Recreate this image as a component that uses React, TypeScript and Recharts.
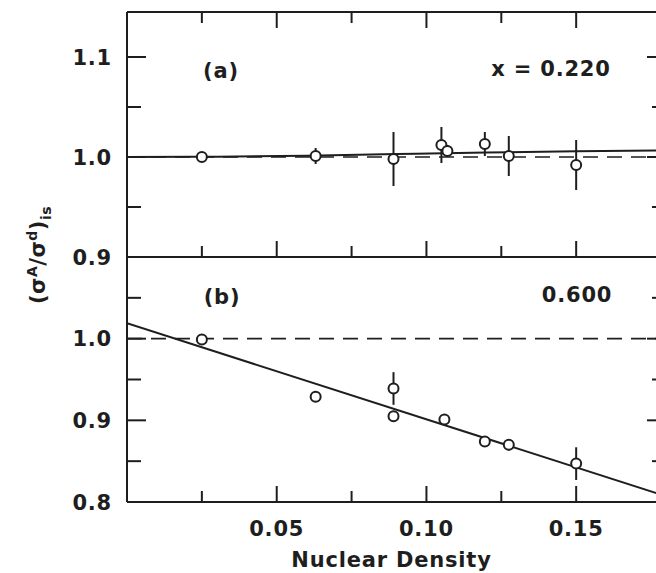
import { ComposedChart, Scatter, Line, XAxis, YAxis, ErrorBar, ReferenceLine } from 'recharts'

// x axis: nuclear density
const xTicks = [0.025, 0.05, 0.075, 0.1, 0.125, 0.15]
const xMajor = [0.05, 0.1, 0.15]

// panel (a), x = 0.220
const yTicksA = [0.9, 0.95, 1.0, 1.05, 1.1]
const yMajorA = [0.9, 1.0, 1.1]
const densA = [0.025, 0.063, 0.089, 0.105, 0.107, 0.1195, 0.1275, 0.15]
const ratioA = [1.0, 1.001, 0.998, 1.012, 1.006, 1.013, 1.001, 0.992]
const errA = [0, 0.008, 0.027, 0.018, 0.006, 0.012, 0.02, 0.025]
const fitDensA = [0, 0.03, 0.06, 0.09, 0.12, 0.15, 0.18]
const fitRatioA = [1.0, 1.0003, 1.0013, 1.003, 1.0045, 1.0058, 1.0065]

// panel (b), x = 0.600
const yTicksB = [0.8, 0.85, 0.9, 0.95, 1.0, 1.05]
const yMajorB = [0.8, 0.9, 1.0]
const densB = [0.025, 0.063, 0.089, 0.089, 0.106, 0.1195, 0.1275, 0.15]
const ratioB = [0.999, 0.929, 0.939, 0.905, 0.901, 0.874, 0.870, 0.847]
const errB = [0, 0, 0.02, 0.006, 0.006, 0.005, 0.007, 0.02]
const fitDensB = [0, 0.18]
const fitRatioB = [1.019, 0.807]

const INK = '#1e1e1e'
const FONT = '"DejaVu Sans", sans-serif'

const pointsA = densA.map((d, i) => ({ dens: d, ratio: ratioA[i], err: errA[i] }))
const pointsB = densB.map((d, i) => ({ dens: d, ratio: ratioB[i], err: errB[i] }))
const fitA = fitDensA.map((d, i) => ({ dens: d, ratio: fitRatioA[i] }))
const fitB = fitDensB.map((d, i) => ({ dens: d, ratio: fitRatioB[i] }))

const isIn = (list: number[], v: number) => list.some((l) => Math.abs(l - v) < 1e-9)

const textStyle = {
  fontFamily: FONT,
  fontSize: 21,
  fontWeight: 'bold' as const,
  letterSpacing: 0.8,
  fill: INK,
}

function makeYTick(major: number[], side: 'left' | 'right') {
  return (props: any) => {
    const { x, y, payload } = props
    const big = isIn(major, payload.value)
    const len = big ? 19 : 14
    const dir = side === 'left' ? 1 : -1
    return (
      <g>
        <line x1={x} x2={x + dir * len} y1={y} y2={y} stroke={INK} strokeWidth={2} />
        {side === 'left' && big && (
          <text x={x - 15} y={y} dy={7.5} textAnchor="end" style={textStyle}>
            {payload.value.toFixed(1)}
          </text>
        )}
      </g>
    )
  }
}

function makeXTick(side: 'top' | 'bottom', labels: boolean) {
  return (props: any) => {
    const { x, y, payload } = props
    const big = isIn(xMajor, payload.value)
    const len = big ? 16 : 11
    const dir = side === 'top' ? 1 : -1
    return (
      <g>
        <line x1={x} x2={x} y1={y} y2={y + dir * len} stroke={INK} strokeWidth={2} />
        {labels && big && (
          <text x={x} y={y + 34} textAnchor="middle" style={textStyle}>
            {payload.value.toFixed(2)}
          </text>
        )}
      </g>
    )
  }
}

const OpenMarker = (props: any) => {
  const { cx, cy } = props
  return <circle cx={cx} cy={cy} r={5} fill="#fff" stroke={INK} strokeWidth={2} />
}

const axisLine = { stroke: INK, strokeWidth: 2 }

function Panel({
  top,
  bottom,
  domain,
  yTicks,
  yMajor,
  points,
  fit,
  fitType,
  showTop,
  showLabels,
}: any) {
  return (
    <div style={{ position: 'absolute', left: 0, top: 0 }}>
      <ComposedChart width={700} height={573} margin={{ top, right: 0, bottom, left: 0 }}>
        {showTop && (
          <XAxis
            xAxisId="t"
            orientation="top"
            type="number"
            dataKey="dens"
            domain={[0, 0.18]}
            allowDataOverflow
            ticks={xTicks}
            interval={0}
            tickSize={0}
            tickMargin={0}
            height={1}
            tickLine={false}
            axisLine={axisLine}
            tick={makeXTick('top', false)}
          />
        )}
        <XAxis
          xAxisId="b"
          type="number"
          dataKey="dens"
          domain={[0, 0.18]}
          allowDataOverflow
          ticks={xTicks}
          interval={0}
          tickSize={0}
          tickMargin={0}
          height={showLabels ? 71 : 1}
          tickLine={false}
          axisLine={axisLine}
          tick={makeXTick('bottom', showLabels)}
          label={
            showLabels
              ? {
                  value: 'Nuclear Density',
                  position: 'insideBottom',
                  offset: 6,
                  dx: -5,
                  style: textStyle,
                }
              : undefined
          }
        />
        <YAxis
          yAxisId="l"
          type="number"
          domain={domain}
          allowDataOverflow
          ticks={yTicks}
          interval={0}
          tickSize={0}
          tickMargin={0}
          width={127}
          tickLine={false}
          axisLine={axisLine}
          tick={makeYTick(yMajor, 'left')}
        />
        <YAxis
          yAxisId="r"
          orientation="right"
          type="number"
          domain={domain}
          allowDataOverflow
          ticks={yTicks}
          interval={0}
          tickSize={0}
          tickMargin={0}
          width={34}
          tickLine={false}
          axisLine={axisLine}
          tick={makeYTick(yMajor, 'right')}
        />
        <ReferenceLine
          xAxisId="b"
          yAxisId="l"
          y={1}
          stroke={INK}
          strokeWidth={1.6}
          strokeDasharray="15 9"
        />
        <Line
          xAxisId="b"
          yAxisId="l"
          data={fit}
          dataKey="ratio"
          type={fitType}
          stroke={INK}
          strokeWidth={2}
          dot={false}
          activeDot={false}
          isAnimationActive={false}
        />
        <Scatter
          xAxisId="b"
          yAxisId="l"
          data={points}
          dataKey="ratio"
          shape={<OpenMarker />}
          isAnimationActive={false}
        >
          <ErrorBar dataKey="err" direction="y" width={0} stroke={INK} strokeWidth={2} />
        </Scatter>
      </ComposedChart>
    </div>
  )
}

export default function App() {
  return (
    <div
      style={{
        position: 'fixed',
        left: 0,
        top: 0,
        width: 656,
        height: 573,
        overflow: 'hidden',
        background: '#fff',
      }}
    >
      <Panel
        top={11}
        bottom={315}
        domain={[0.9, 1.145]}
        yTicks={yTicksA}
        yMajor={yMajorA}
        points={pointsA}
        fit={fitA}
        fitType="monotone"
        showTop
        showLabels={false}
      />
      <Panel
        top={257}
        bottom={0}
        domain={[0.8, 1.1]}
        yTicks={yTicksB}
        yMajor={yMajorB}
        points={pointsB}
        fit={fitB}
        fitType="linear"
        showTop={false}
        showLabels
      />
      <svg
        width={656}
        height={573}
        style={{ position: 'absolute', left: 0, top: 0, pointerEvents: 'none' }}
      >
        <text x={221} y={77.5} textAnchor="middle" style={textStyle}>
          (a)
        </text>
        <text x={551} y={75.5} textAnchor="middle" style={textStyle}>
          x = 0.220
        </text>
        <text x={222} y={304} textAnchor="middle" style={textStyle}>
          (b)
        </text>
        <text x={577} y={301.5} textAnchor="middle" style={textStyle}>
          0.600
        </text>
        <text
          x={38}
          y={255}
          transform="rotate(-90, 38, 255)"
          textAnchor="middle"
          dy={7}
          style={{ ...textStyle, letterSpacing: 0.5 }}
        >
          <tspan>(σ</tspan>
          <tspan dy={-8} fontSize={14}>A</tspan>
          <tspan dy={8}>/σ</tspan>
          <tspan dy={-8} fontSize={14}>d</tspan>
          <tspan dy={8}>)</tspan>
          <tspan dy={6} fontSize={14}>is</tspan>
        </text>
      </svg>
    </div>
  )
}
